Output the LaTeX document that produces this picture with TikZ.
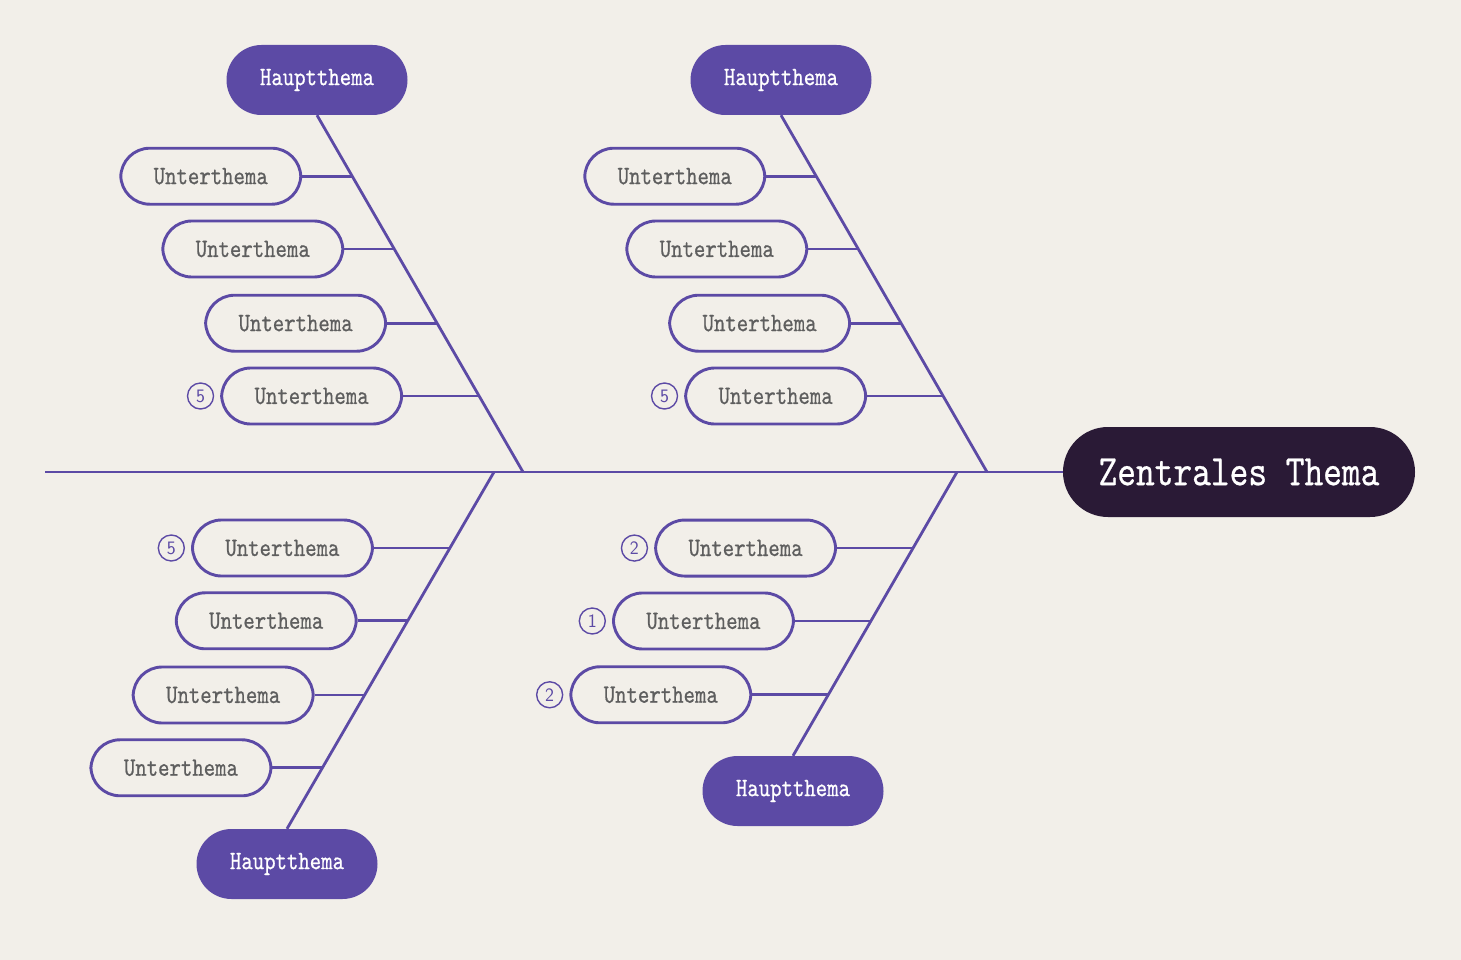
\documentclass[tikz,border=0pt]{standalone}
\usepackage{fontspec}
\usetikzlibrary{calc}
\usetikzlibrary{positioning}

\newfontfamily\fishfont{lmmono10-regular.otf}[FakeStretch=0.82,FakeBold=0.6]

\definecolor{fishbg}{HTML}{F2EFE9}
\definecolor{fishpurple}{HTML}{5C4AA5}
\definecolor{fishdark}{HTML}{2A1A36}
\definecolor{fishgray}{HTML}{5E5E5E}

\tikzset{
  central/.style={fill=fishdark,text=white,rounded corners=45pt,minimum width=352pt,minimum height=90pt,inner sep=0pt,font=\fishfont\fontsize{43.5}{48}\selectfont},
  haupt/.style={fill=fishpurple,text=white,rounded corners=35pt,minimum width=181pt,minimum height=70pt,inner sep=0pt,font=\fishfont\fontsize{26.5}{30}\selectfont},
  sub/.style={draw=fishpurple,line width=2.9pt,fill=fishbg,text=fishgray,rounded corners=29pt,minimum width=180pt,minimum height=56pt,inner sep=0pt,font=\fishfont\fontsize{26.5}{30}\selectfont},
  badge/.style={circle,draw=fishpurple,line width=1.4pt,text=fishpurple,minimum size=26pt,inner sep=0pt,font=\sffamily\fontsize{19}{21}\selectfont},
  bone/.style={draw=fishpurple,line width=2.8pt},
}

\begin{document}
\begin{tikzpicture}[x=1pt,y=-1pt]

  \fill [fishbg] (0,0) rectangle (1461,960);
  \useasboundingbox (0,0) rectangle (1461,960);

  % spine
  \node [central] (zt) at (1239,472) {Zentrales Thema};
  \coordinate (tail) at (45,472);
  \coordinate (s1) at (523,472);
  \coordinate (s2) at (987,472);
  \coordinate (s3) at (494,472);
  \coordinate (s4) at (957,472);
  \path [bone] (zt.west) -- (tail);

  % main topics
  \node [haupt] (h1) at (317,80) {Hauptthema};
  \node [haupt] (h2) at (781,80) {Hauptthema};
  \node [haupt] (h3) at (287,864) {Hauptthema};
  \node [haupt] (h4) at (793,791) {Hauptthema};

  \path [bone]
    (h1.south) -- (s1)
    (h2.south) -- (s2)
    (s3) -- (h3.north)
    (s4) -- (h4.north);

  % joints on the bones
  \coordinate (a1) at ($(h1.south)!0.171!(s1)$);
  \coordinate (a2) at ($(h1.south)!0.375!(s1)$);
  \coordinate (a3) at ($(h1.south)!0.583!(s1)$);
  \coordinate (a4) at ($(h1.south)!0.787!(s1)$);
  \coordinate (b1) at ($(h2.south)!0.171!(s2)$);
  \coordinate (b2) at ($(h2.south)!0.375!(s2)$);
  \coordinate (b3) at ($(h2.south)!0.583!(s2)$);
  \coordinate (b4) at ($(h2.south)!0.787!(s2)$);
  \coordinate (c1) at ($(s3)!0.213!(h3.north)$);
  \coordinate (c2) at ($(s3)!0.417!(h3.north)$);
  \coordinate (c3) at ($(s3)!0.625!(h3.north)$);
  \coordinate (c4) at ($(s3)!0.829!(h3.north)$);
  \coordinate (d1) at ($(s4)!0.268!(h4.north)$);
  \coordinate (d2) at ($(s4)!0.525!(h4.north)$);
  \coordinate (d3) at ($(s4)!0.785!(h4.north)$);

  % subtopics
  \node [sub,left=50pt of a1] (a1u) {Unterthema};
  \node [sub,left=50pt of a2] (a2u) {Unterthema};
  \node [sub,left=50pt of a3] (a3u) {Unterthema};
  \node [sub,left=76pt of a4] (a4u) {Unterthema};
  \node [badge,left=6pt of a4u] (a4n) {5};

  \node [sub,left=50pt of b1] (b1u) {Unterthema};
  \node [sub,left=50pt of b2] (b2u) {Unterthema};
  \node [sub,left=50pt of b3] (b3u) {Unterthema};
  \node [sub,left=76pt of b4] (b4u) {Unterthema};
  \node [badge,left=6pt of b4u] (b4n) {5};

  \node [sub,left=76pt of c1] (c1u) {Unterthema};
  \node [badge,left=6pt of c1u] (c1n) {5};
  \node [sub,left=50pt of c2] (c2u) {Unterthema};
  \node [sub,left=50pt of c3] (c3u) {Unterthema};
  \node [sub,left=50pt of c4] (c4u) {Unterthema};

  \node [sub,left=76pt of d1] (d1u) {Unterthema};
  \node [badge,left=6pt of d1u] (d1n) {2};
  \node [sub,left=76pt of d2] (d2u) {Unterthema};
  \node [badge,left=6pt of d2u] (d2n) {1};
  \node [sub,left=76pt of d3] (d3u) {Unterthema};
  \node [badge,left=6pt of d3u] (d3n) {2};

  \path [bone]
    (a1u.east) -- (a1) (a2u.east) -- (a2) (a3u.east) -- (a3) (a4u.east) -- (a4)
    (b1u.east) -- (b1) (b2u.east) -- (b2) (b3u.east) -- (b3) (b4u.east) -- (b4)
    (c1u.east) -- (c1) (c2u.east) -- (c2) (c3u.east) -- (c3) (c4u.east) -- (c4)
    (d1u.east) -- (d1) (d2u.east) -- (d2) (d3u.east) -- (d3);

\end{tikzpicture}
\end{document}
